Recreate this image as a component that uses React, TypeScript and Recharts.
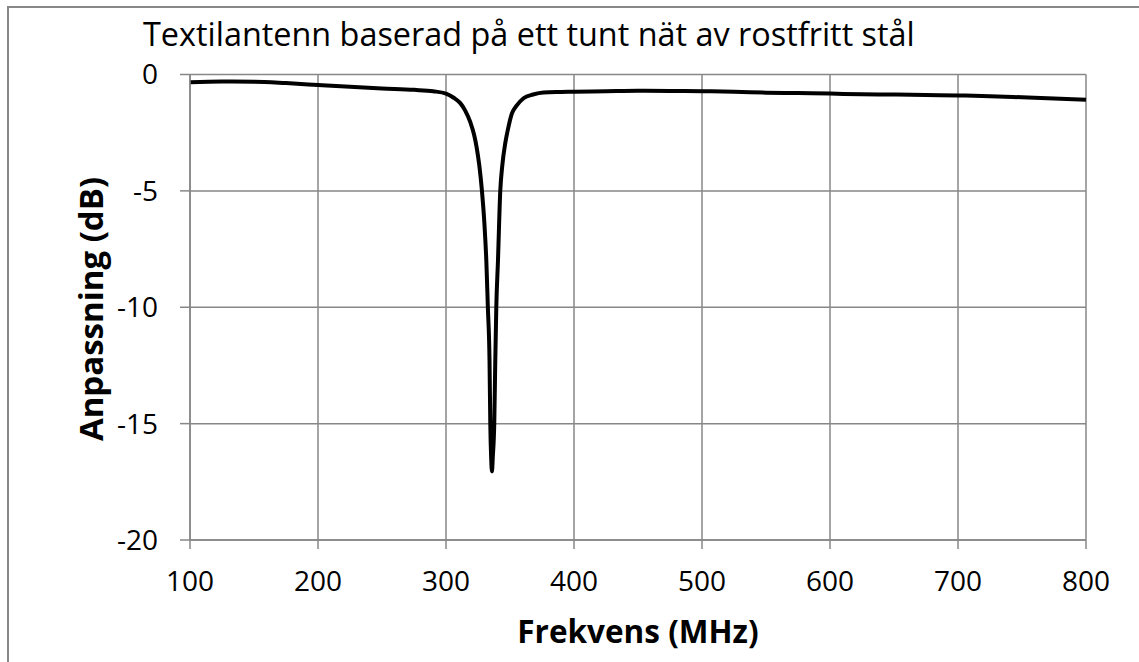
import { CartesianGrid, Label, Line, LineChart, XAxis, YAxis } from "recharts"

// frequency points (MHz), denser around the resonance
const freqs = [
  100, 125, 150, 175, 200, 225, 250, 275, 290, 300, 306, 311, 315, 319, 322, 324, 326, 328, 330, 331.5,
  332.7, 334, 334.6, 335.3, 335.9, 336.6, 337.7, 338.5, 339.3, 340.6, 342.4, 344, 346.3, 349, 351.5, 355,
  360.6, 368, 376.2, 390, 400, 425, 450, 475, 500, 525, 550, 575, 600, 625, 650, 675, 700, 725, 750, 775, 800,
]

// return loss (dB)
const matching = [
  -0.33, -0.3, -0.31, -0.37, -0.45, -0.53, -0.6, -0.66, -0.72, -0.82, -1.0, -1.22, -1.55, -2.05, -2.6, -3.15,
  -3.9, -4.95, -6.4, -8.0, -10.0, -12.3, -15.0, -16.5, -17.05, -16.4, -15.0, -12.3, -10.0, -8.0, -5.0, -3.9,
  -2.95, -2.2, -1.67, -1.35, -1.02, -0.86, -0.77, -0.75, -0.74, -0.72, -0.7, -0.71, -0.72, -0.74, -0.78,
  -0.8, -0.82, -0.85, -0.86, -0.88, -0.9, -0.93, -0.98, -1.03, -1.09,
]

const xTicks = [100, 200, 300, 400, 500, 600, 700, 800]
const yTicks = [-20, -15, -10, -5, 0]

const title = "Textilantenn baserad på ett tunt nät av rostfritt stål"
const xTitle = "Frekvens (MHz)"
const yTitle = "Anpassning (dB)"

const data = freqs.map((f, i) => ({ f, db: matching[i] }))

const font = "'Open Sans', sans-serif"
const gray = "#878787"

export default function App() {
  return (
    <div style={{ position: "absolute", left: 0, top: 0, width: 1139, height: 662, overflow: "hidden", background: "#fff", fontFamily: font }}>
      {/* outer frame, only left and top edges are inside the picture */}
      <div
        style={{
          position: "absolute",
          left: 7,
          top: 6,
          width: 1140,
          height: 660,
          borderLeft: `2px solid ${gray}`,
          borderTop: `2px solid ${gray}`,
        }}
      />
      <div style={{ position: "absolute", left: 143, top: 17, fontSize: 32.4, lineHeight: 1, color: "#000", whiteSpace: "nowrap" }}>
        {title}
      </div>
      <div
        style={{
          position: "absolute",
          left: 90,
          top: 309,
          transform: "translate(-50%, -50%) rotate(-90deg)",
          fontSize: 33,
          lineHeight: 1,
          fontWeight: 700,
          whiteSpace: "nowrap",
          color: "#000",
        }}
      >
        {yTitle}
      </div>
      <LineChart
        width={1139}
        height={662}
        data={data}
        margin={{ top: 74.5, right: 53, bottom: 0, left: 0 }}
        style={{ position: "absolute", left: 0, top: 0 }}
      >
        <CartesianGrid stroke={gray} strokeWidth={1.5} />
        <XAxis
          dataKey="f"
          type="number"
          domain={[100, 800]}
          ticks={xTicks}
          height={122}
          tickSize={9}
          tickMargin={22}
          axisLine={{ stroke: gray, strokeWidth: 1.5 }}
          tickLine={{ stroke: gray, strokeWidth: 1.5 }}
          tick={{ fill: "#000", fontSize: 28, fontFamily: font }}
        >
          <Label value={xTitle} position="insideBottom" offset={19} style={{ fontSize: 31.5, fontWeight: 700, fill: "#000", fontFamily: font }} />
        </XAxis>
        <YAxis
          type="number"
          domain={[-20, 0]}
          ticks={yTicks}
          width={190}
          tickSize={10}
          tickMargin={22}
          axisLine={{ stroke: gray, strokeWidth: 1.5 }}
          tickLine={{ stroke: gray, strokeWidth: 1.5 }}
          tick={{ fill: "#000", fontSize: 28, fontFamily: font }}
        />
        <Line type="monotone" dataKey="db" stroke="#000" strokeWidth={4} dot={false} isAnimationActive={false} />
      </LineChart>
    </div>
  )
}
